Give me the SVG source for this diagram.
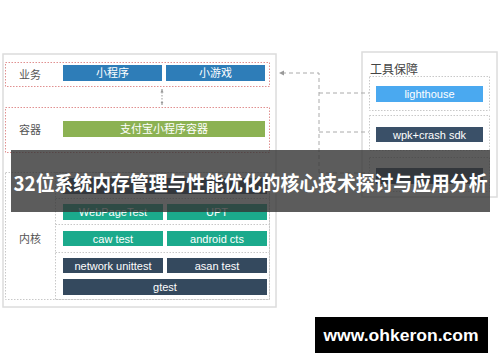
<svg xmlns="http://www.w3.org/2000/svg" width="500" height="362" viewBox="0 0 500 362">
<defs>
<style>
.lbl{font-family:"Liberation Sans","Noto Sans CJK SC",sans-serif;font-size:11px;fill:#fff;text-anchor:middle;dominant-baseline:central}
.cat{font-family:"Noto Sans CJK SC","Liberation Sans",sans-serif;font-size:11px;fill:#555;dominant-baseline:central}
.red{fill:none;stroke:#e09090;stroke-width:1;stroke-dasharray:1.5 1.5}
.gray{fill:none;stroke:#c8c8c8;stroke-width:1;stroke-dasharray:1.5 1.5}
.panel{fill:#fff;stroke:#dcdcdc;stroke-width:1.5}
.dash{fill:none;stroke:#aaa;stroke-width:1;stroke-dasharray:4 3}
.dot{fill:none;stroke:#999;stroke-width:1;stroke-dasharray:1.5 1.5}
</style>
<marker id="ah" markerWidth="6" markerHeight="6" refX="5" refY="3" orient="auto" markerUnits="userSpaceOnUse">
<path d="M0,0.5 L5,3 L0,5.5 z" fill="#999"/>
</marker>
<marker id="ahs" markerWidth="4" markerHeight="4" refX="3.5" refY="2" orient="auto-start-reverse" markerUnits="userSpaceOnUse">
<path d="M0,0.5 L3.5,2 L0,3.5 z" fill="#999"/>
</marker>
</defs>
<rect width="500" height="362" fill="#fff"/>

<g id="main-panel">
<rect x="3" y="54" width="273" height="253" class="panel"/>
</g>

<g id="layer-business">
<rect x="5.5" y="62.5" width="264" height="24" class="red"/>
<text x="19" y="74" class="cat">业务</text>
<g id="node-miniprogram"><rect x="63" y="65" width="99" height="16" fill="#2e7db8"/><text x="112.5" y="73" class="lbl">小程序</text></g>
<g id="node-minigame"><rect x="166" y="65" width="99" height="16" fill="#2e7db8"/><text x="215.5" y="73" class="lbl">小游戏</text></g>
</g>

<g id="layer-container">
<rect x="5.5" y="107.5" width="264" height="45" class="red"/>
<text x="19" y="129" class="cat">容器</text>
<g id="node-container"><rect x="63" y="121" width="202" height="16" fill="#8cb253"/><text x="164" y="129" class="lbl">支付宝小程序容器</text></g>
</g>

<g id="layer-kernel">
<rect x="5.5" y="172.5" width="264" height="127" class="gray"/>
<rect x="55.5" y="172.5" width="214" height="127" class="gray"/>
<line x1="55.5" y1="198.5" x2="269.5" y2="198.5" class="gray"/>
<line x1="55.5" y1="224.5" x2="269.5" y2="224.5" class="gray"/>
<line x1="55.5" y1="252.5" x2="269.5" y2="252.5" class="gray"/>
<text x="19" y="238" class="cat">内核</text>
<g id="node-hidden-kernel"><rect x="63" y="178" width="204" height="16" fill="#34495e"/></g>
<g id="node-webpagetest"><rect x="63" y="204" width="100" height="16" fill="#1baa8c"/><text x="113" y="212" class="lbl">WebPageTest</text></g>
<g id="node-upt"><rect x="167" y="204" width="100" height="16" fill="#1baa8c"/><text x="217" y="212" class="lbl">UPT</text></g>
<g id="node-cawtest"><rect x="63" y="231" width="100" height="15" fill="#1baa8c"/><text x="113" y="238.5" class="lbl">caw test</text></g>
<g id="node-androidcts"><rect x="167" y="231" width="100" height="15" fill="#1baa8c"/><text x="217" y="238.5" class="lbl">android cts</text></g>
<g id="node-network"><rect x="63" y="258" width="100" height="15" fill="#34495e"/><text x="113" y="265.5" class="lbl">network unittest</text></g>
<g id="node-asan"><rect x="167" y="258" width="100" height="15" fill="#34495e"/><text x="217" y="265.5" class="lbl">asan test</text></g>
<g id="node-gtest"><rect x="63" y="279" width="204" height="16" fill="#34495e"/><text x="165" y="287" class="lbl">gtest</text></g>
</g>

<g id="tools-panel">
<rect x="362" y="52" width="135" height="145" class="panel"/>
<text x="370" y="68" class="cat" style="font-size:12px;fill:#444">工具保障</text>
<rect x="369.5" y="76.5" width="120" height="34" class="gray"/>
<rect x="369.5" y="115.5" width="120" height="35" class="gray"/>
<rect x="369.5" y="157.5" width="120" height="34" class="gray"/>
<g id="node-lighthouse"><rect x="376" y="86" width="107" height="16" fill="#4aa9f0"/><text x="429.5" y="94" class="lbl">lighthouse</text></g>
<g id="node-wpk"><rect x="376" y="127" width="107" height="15" fill="#3a5068"/><text x="429.5" y="134.5" class="lbl">wpk+crash sdk</text></g>
<g id="node-hidden-tool"><rect x="376" y="168" width="107" height="16" fill="#34495e"/></g>
</g>

<g id="connectors">
<line x1="162" y1="89" x2="162" y2="105" class="dot" marker-start="url(#ahs)" marker-end="url(#ahs)"/>
<path d="M319,173 V73 H279" class="dash" marker-end="url(#ah)"/>
<line x1="319" y1="93" x2="369" y2="93" class="dash"/>
<line x1="319" y1="132" x2="369" y2="132" class="dash"/>
<line x1="319" y1="173" x2="369" y2="173" class="dash"/>
</g>

<g id="banner">
<rect x="11" y="150" width="479" height="62" fill="#333" fill-opacity="0.8"/>
<text x="250.5" y="182" font-family="'Noto Sans CJK SC','Noto Sans',sans-serif" font-size="20" font-weight="bold" fill="#fff" text-anchor="middle" dominant-baseline="central" textLength="474" lengthAdjust="spacingAndGlyphs">32位系统内存管理与性能优化的核心技术探讨与应用分析</text>
</g>

<g id="watermark">
<rect x="315" y="317" width="173" height="36" fill="#000"/>
<text x="401" y="335" font-family="'Liberation Sans',Arial,sans-serif" font-size="16" font-weight="bold" fill="#fff" text-anchor="middle" dominant-baseline="central" textLength="155" lengthAdjust="spacingAndGlyphs">www.ohkeron.com</text>
</g>
</svg>
